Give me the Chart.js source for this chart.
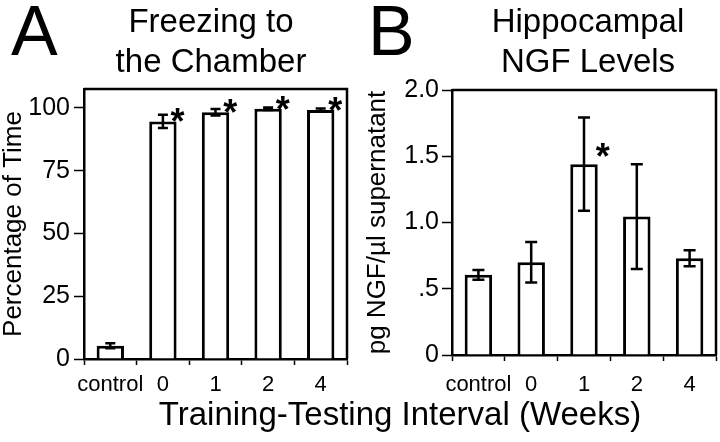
<!DOCTYPE html>
<html>
<head>
<meta charset="utf-8">
<script src="https://cdn.jsdelivr.net/npm/chart.js@4.4.1/dist/chart.umd.min.js"></script>
<style>
  body { margin: 0; background: #fff; width: 720px; height: 442px; overflow: hidden; position: relative; font-family: "Liberation Sans", Arial, sans-serif; color: #000; }
  .wrap { position: absolute; top: 0; width: 360px; height: 442px; }
  .letter { position: absolute; font-size: 70px; line-height: 70px; }
  .title { position: absolute; font-size: 33px; line-height: 40px; text-align: center; width: 300px; }
  #xtitle { position: absolute; left: 100px; width: 600px; top: 394px; text-align: center; font-size: 33px; line-height: 40px; }
</style>
</head>
<body>
<div class="wrap" style="left:0"><canvas id="chartA" width="360" height="442"></canvas></div>
<div class="wrap" style="left:360px"><canvas id="chartB" width="360" height="442"></canvas></div>
<div class="letter" style="left:11px; top:-4px">A</div>
<div class="letter" style="left:368px; top:-4px">B</div>
<div class="title" style="left:61px; top:1px">Freezing to<br>the Chamber</div>
<div class="title" style="left:438px; top:1px">Hippocampal<br>NGF Levels</div>
<div id="xtitle">Training-Testing Interval (Weeks)</div>
<script>
const categories = ['control', '0', '1', '2', '4'];

// A: freezing to the chamber (% of time)
const freezingMeans = [5.3, 94.6, 98.2, 99.6, 99.1];
const freezingErrors = [1.0, 2.6, 1.3, 0.5, 0.6];
const freezingSig = [false, true, true, true, true];
const ticksA = [0, 25, 50, 75, 100];
const tickLabelsA = ['0', '25', '50', '75', '100'];

// B: hippocampal NGF (pg NGF/ul supernatant)
const ngfMeans = [0.605, 0.70, 1.44, 1.045, 0.73];
const ngfErrors = [0.037, 0.153, 0.352, 0.395, 0.06];
const ngfSig = [false, false, true, false, false];
const ticksB = [0, 0.5, 1.0, 1.5, 2.0];
const tickLabelsB = ['0', '.5', '1.0', '1.5', '2.0'];

const FONT = '"Liberation Sans", Arial, sans-serif';

// error bars, stars and the top/right frame
const extrasPlugin = {
    id: 'extras',
    afterDatasetsDraw(chart, args, opts) {
        const ctx = chart.ctx;
        const y = chart.scales.y;
        const meta = chart.getDatasetMeta(0);
        ctx.save();
        ctx.strokeStyle = '#000';
        ctx.lineWidth = 2.5;
        meta.data.forEach((bar, i) => {
            const m = opts.means[i], e = opts.errors[i];
            const top = y.getPixelForValue(m + e);
            const bot = y.getPixelForValue(m - e);
            ctx.beginPath();
            ctx.moveTo(bar.x, top); ctx.lineTo(bar.x, bot);
            ctx.moveTo(bar.x - opts.cap, top); ctx.lineTo(bar.x + opts.cap, top);
            ctx.moveTo(bar.x - opts.cap, bot); ctx.lineTo(bar.x + opts.cap, bot);
            ctx.stroke();
            if (opts.sig[i]) {
                ctx.fillStyle = '#000';
                ctx.font = 'bold 36px ' + FONT;
                ctx.textAlign = 'center';
                ctx.textBaseline = 'alphabetic';
                const sx = bar.x + bar.width / 2 + opts.starDx;
                const sy = y.getPixelForValue(m) - opts.starDy;
                ctx.fillText('*', sx, sy + 21);
            }
        });
        const a = chart.chartArea;
        ctx.lineWidth = 2.5;
        ctx.beginPath();
        ctx.moveTo(a.left, a.top); ctx.lineTo(a.right, a.top); ctx.lineTo(a.right, a.bottom);
        ctx.stroke();
        ctx.restore();
    }
};

function makeChart(id, means, errors, sig, ticks, tickLabels, yMax, yTitle, geo) {
    new Chart(document.getElementById(id), {
        type: 'bar',
        data: {
            labels: categories,
            datasets: [{
                data: means,
                backgroundColor: '#fff',
                borderColor: '#000',
                borderWidth: 3,
                borderSkipped: 'bottom',
                barPercentage: 0.52,
                categoryPercentage: 1
            }]
        },
        options: {
            responsive: false,
            animation: false,
            layout: { padding: { top: geo.top, right: geo.right, left: 0, bottom: 0 } },
            plugins: {
                legend: { display: false },
                tooltip: { enabled: false },
                extras: { means: means, errors: errors, sig: sig, cap: geo.cap, starDx: geo.starDx, starDy: geo.starDy }
            },
            scales: {
                x: {
                    afterFit: s => { s.height = geo.xh; },
                    border: { color: '#000', width: 2.5 },
                    grid: { drawOnChartArea: false, tickLength: 6, tickColor: '#000', tickWidth: 1.5 },
                    ticks: { color: '#000', font: { family: FONT, size: 22 }, padding: geo.xpad, maxRotation: 0, autoSkip: false }
                },
                y: {
                    min: 0,
                    max: yMax,
                    afterFit: s => { s.width = geo.yw; },
                    afterBuildTicks: s => { s.ticks = ticks.map(v => ({ value: v })); },
                    border: { color: '#000', width: 2.5 },
                    grid: { drawOnChartArea: false, tickLength: 10, tickColor: '#000', tickWidth: 1.5 },
                    ticks: {
                        color: '#000',
                        font: { family: FONT, size: 25 },
                        padding: geo.ypad,
                        callback: (v) => tickLabels[ticks.indexOf(v)]
                    },
                    title: {
                        display: true,
                        text: yTitle,
                        color: '#000',
                        font: { family: FONT, size: 26, lineHeight: 1 },
                        padding: { top: geo.tpad, bottom: 0 }
                    }
                }
            }
        },
        plugins: [extrasPlugin]
    });
}

makeChart('chartA', freezingMeans, freezingErrors, freezingSig, ticksA, tickLabelsA, 107.5,
    'Percentage of Time',
    { top: 89, right: 13, xh: 83, yw: 84, ypad: 4, xpad: 7, tpad: 1, cap: 5, starDx: 1, starDy: 8 });

makeChart('chartB', ngfMeans, ngfErrors, ngfSig, ticksB, tickLabelsB, 2.0,
    'pg NGF/\u00b5l supernatant',
    { top: 90, right: 4, xh: 87, yw: 92, ypad: 3, xpad: 11, tpad: 5, cap: 6, starDx: 5, starDy: 16 });
</script>
</body>
</html>
